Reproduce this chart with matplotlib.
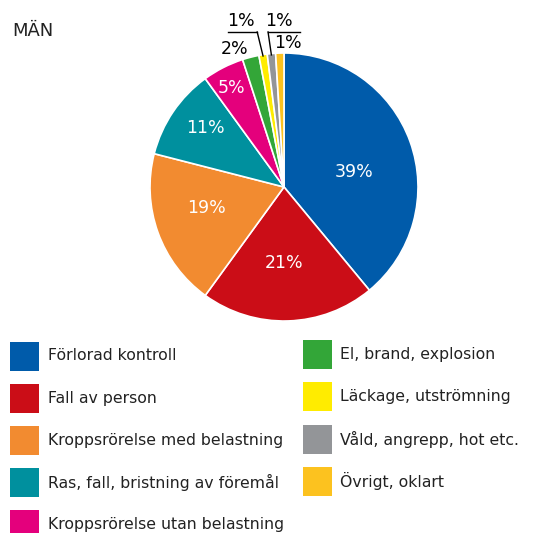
import numpy as np
import matplotlib.pyplot as plt
from matplotlib.patches import Rectangle

plt.rcParams['font.family'] = ['DejaVu Sans']

title = "MÄN"
categories = ["Förlorad kontroll", "Fall av person", "Kroppsrörelse med belastning",
              "Ras, fall, bristning av föremål", "Kroppsrörelse utan belastning",
              "El, brand, explosion", "Läckage, utströmning", "Våld, angrepp, hot etc.",
              "Övrigt, oklart"]
shares = [39, 21, 19, 11, 5, 2, 1, 1, 1]
colors = ['#005BAA', '#CB0D17', '#F28B30', '#00909E', '#E4007C',
          '#33A638', '#FFEC00', '#939598', '#FCC21F']

# label positions in pie units (radius = 1)
label_xy = [(0.52, 0.11), (0.0, -0.57), (-0.58, -0.16), (-0.59, 0.44), (-0.39, 0.74),
            (-0.366, 1.03), (-0.32, 1.24), (-0.037, 1.24), (0.03, 1.075)]
label_col = ['white'] * 5 + ['black'] * 4

fig = plt.figure(figsize=(5.38, 5.33), dpi=100)
ax = fig.add_axes([150 / 538, 1 - 321 / 533, 268 / 538, 268 / 533])
wedges, _ = ax.pie(shares, colors=colors, startangle=90, counterclock=False,
                   wedgeprops=dict(edgecolor='white', linewidth=1.2))
ax.set_xlim(-1, 1)
ax.set_ylim(-1, 1)

for (x, y), v, c in zip(label_xy, shares, label_col):
    ax.text(x, y, f"{v}%", color=c, fontsize=12.5, ha='center', va='center')

# leader lines for the two smallest labelled slices
for w, (x0, x1, xk) in zip(wedges[6:8], [(-0.418, -0.20, -0.20), (-0.119, 0.119, -0.119)]):
    mid = np.deg2rad((w.theta1 + w.theta2) / 2)
    ax.plot([x0, x1], [1.157, 1.157], color='black', lw=1, clip_on=False)
    ax.plot([xk, np.cos(mid)], [1.157, np.sin(mid) * 0.99], color='black', lw=1, clip_on=False)

fig.text(12 / 538, 1 - 31 / 533, title, fontsize=13, va='center', ha='left', color='#222222')

# legend: two columns
W, H = 538, 533
for i, (lab, c) in enumerate(zip(categories, colors)):
    if i < 5:
        sx, tx, cy = 10, 48, 356 + i * 42
    else:
        sx, tx, cy = 303, 340, 354.5 + (i - 5) * 42.3
    fig.add_artist(Rectangle((sx / W, 1 - (cy + 14.5) / H), 29 / W, 29 / H,
                             transform=fig.transFigure, facecolor=c, edgecolor='none'))
    fig.text(tx / W, 1 - cy / H, lab, fontsize=11.3, va='center', ha='left', color='#222222')

fig.savefig('out.png', dpi=100, facecolor='white')
